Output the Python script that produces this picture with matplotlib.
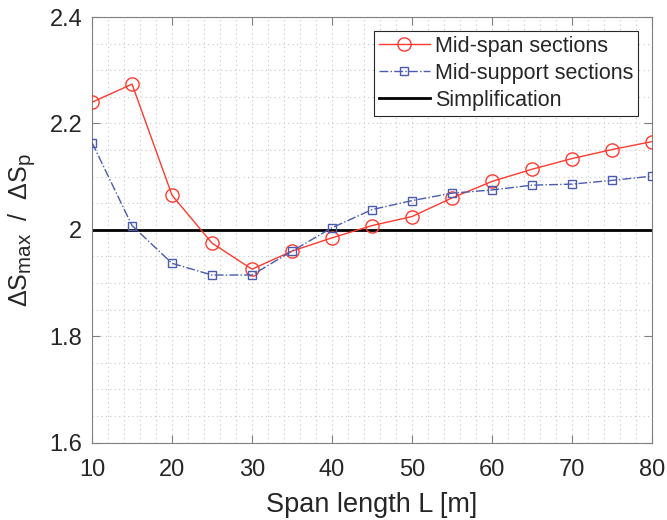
import matplotlib
matplotlib.use("Agg")
import matplotlib.pyplot as plt
import matplotlib._mathtext as _mt
from matplotlib.ticker import MultipleLocator

_mt.SHRINK_FACTOR = 0.82

plt.rcParams['font.family'] = ['Liberation Sans', 'DejaVu Sans']
plt.rcParams['mathtext.fontset'] = 'custom'
plt.rcParams['mathtext.rm'] = 'Liberation Sans'
plt.rcParams['mathtext.it'] = 'Liberation Sans'

span = [10, 15, 20, 25, 30, 35, 40, 45, 50, 55, 60, 65, 70, 75, 80]
mid_span = [2.240, 2.274, 2.065, 1.975, 1.926, 1.960, 1.985, 2.008, 2.025,
            2.060, 2.091, 2.114, 2.134, 2.151, 2.166]
mid_support = [2.164, 2.008, 1.937, 1.915, 1.915, 1.960, 2.004, 2.038, 2.055,
               2.069, 2.075, 2.084, 2.086, 2.093, 2.101]
simplification = 2.0

xticks = [10, 20, 30, 40, 50, 60, 70, 80]
yticks = [1.6, 1.8, 2.0, 2.2, 2.4]
yticklabels = ['1.6', '1.8', '2', '2.2', '2.4']

fig = plt.figure(figsize=(6.67, 5.2), dpi=100)
ax = fig.add_axes([0.138, 0.149, 0.8395, 0.818])

txt = '#262626'
ax.plot(span, mid_span, '-o', color='#FF3B2F', lw=1.0, ms=9.5, mfc='none',
        mew=1.0, label='Mid-span sections', zorder=3)
ax.plot(span, mid_support, '-.s', color='#4A5BB0', lw=1.0, ms=5.5, mfc='none',
        mew=1.0, label='Mid-support sections', zorder=3)
ax.axhline(simplification, color='black', lw=2.0, label='Simplification', zorder=2)

ax.set_xlim(10, 80)
ax.set_ylim(1.6, 2.4)
ax.set_xticks(xticks)
ax.set_yticks(yticks)
ax.set_yticklabels(yticklabels)
ax.xaxis.set_minor_locator(MultipleLocator(2))
ax.yaxis.set_minor_locator(MultipleLocator(0.05))
ax.grid(which='both', color='#c8c8c8', linestyle=(0, (1, 3)), linewidth=0.8)
ax.set_axisbelow(True)

ax.tick_params(which='major', direction='in', length=6, width=0.8,
               colors='#808080', labelcolor=txt, labelsize=17, top=True, right=True)
ax.tick_params(axis='x', which='major', pad=12)
ax.tick_params(axis='y', which='major', pad=7)
ax.tick_params(which='minor', length=0)
for s in ax.spines.values():
    s.set_color('#808080')
    s.set_linewidth(0.8)

ax.set_xlabel('Span length L [m]', fontsize=19.5, color=txt, labelpad=8)
ax.set_ylabel(r'$\Delta\mathrm{S}_{\mathrm{max}}\ \ /\ \ \Delta\mathrm{S}_{\mathrm{p}}$',
              fontsize=18, color=txt, labelpad=8)

leg = ax.legend(loc='upper right', fontsize=15.5, fancybox=False, framealpha=1,
                edgecolor='#262626', borderpad=0.22, labelspacing=0.28,
                handlelength=2.35, handletextpad=0.25, borderaxespad=0.65)
leg.get_frame().set_linewidth(0.8)
for t in leg.get_texts():
    t.set_color(txt)

fig.savefig('out.png', dpi=100)
